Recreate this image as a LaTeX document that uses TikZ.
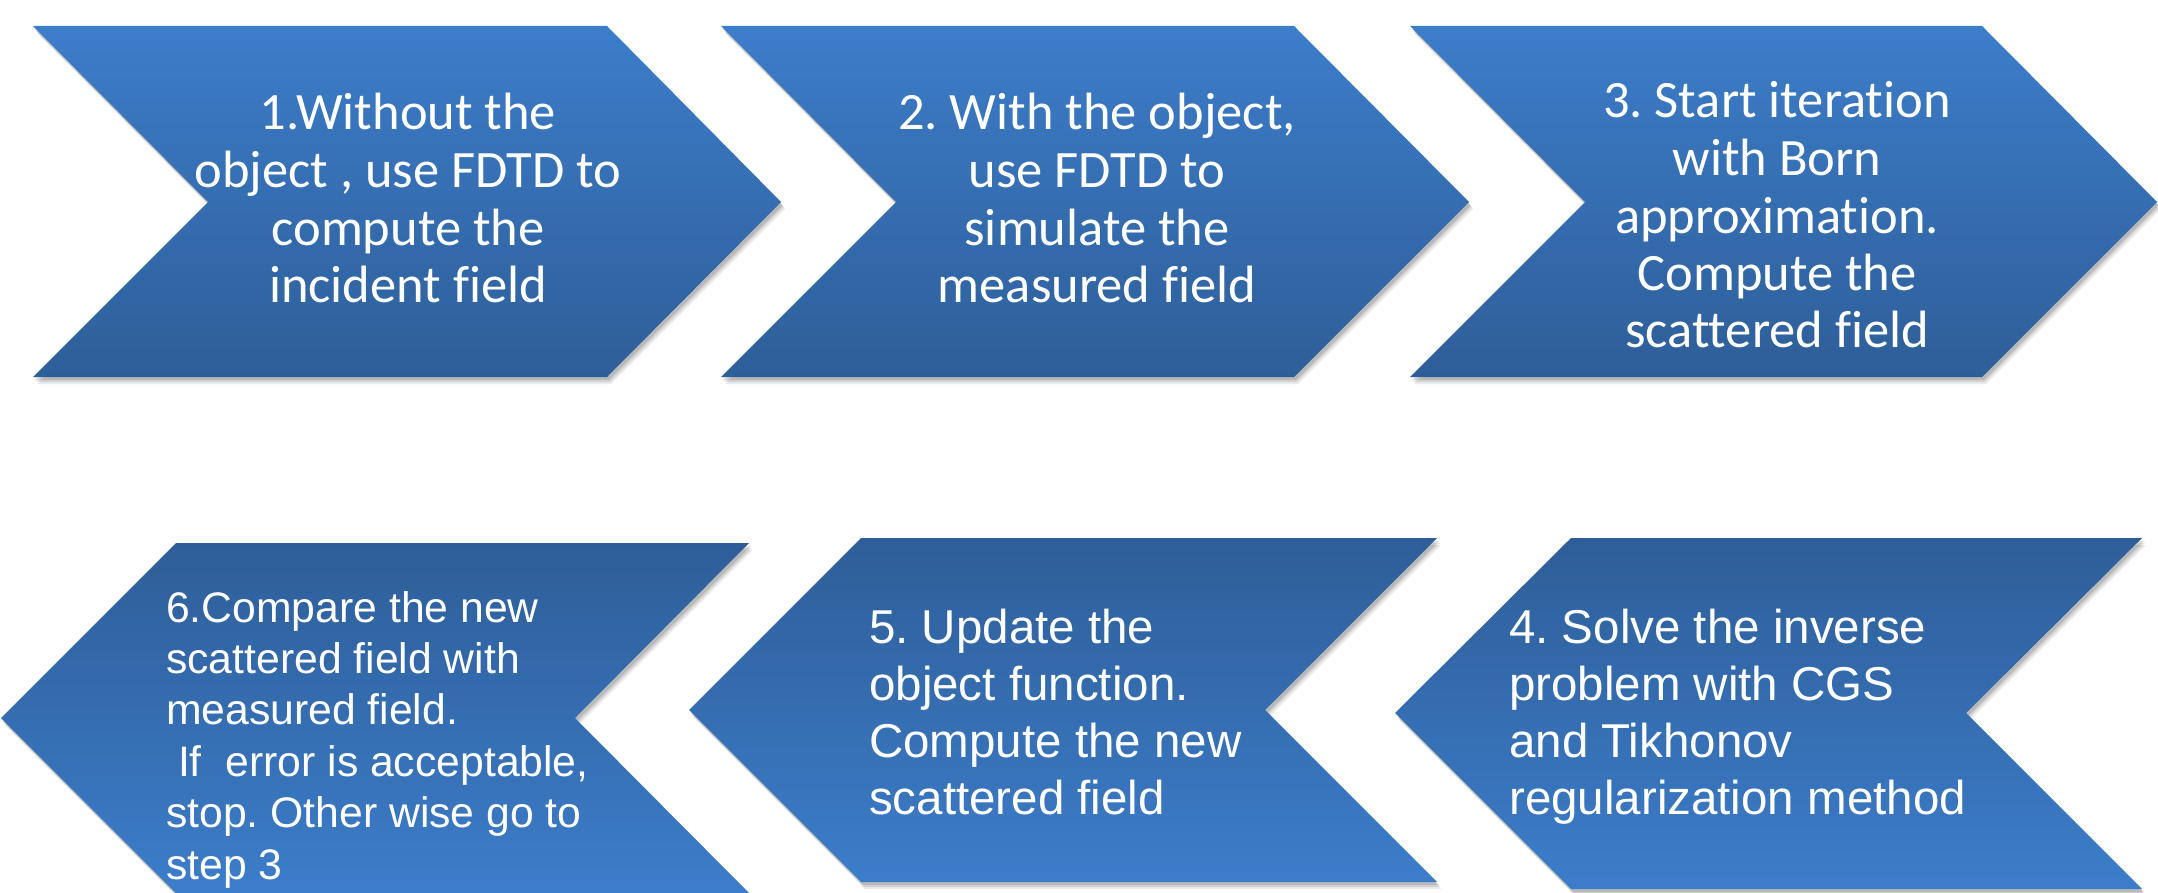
\documentclass[tikz,border=0pt]{standalone}
\usepackage{fontspec}
\newfontfamily\calibf[Ligatures=NoCommon]{Carlito}
\newfontfamily\arialf{Liberation Sans}
\definecolor{lightb}{RGB}{60,125,202}
\definecolor{darkb}{RGB}{46,94,152}
\newcommand\dropshadow[1]{%
  \fill[black,opacity=0.08,shift={(4,7)}] #1;
  \fill[black,opacity=0.10,shift={(3,5)}] #1;
  \fill[black,opacity=0.12,shift={(2,3)}] #1;}
\frenchspacing
\begin{document}
\begin{tikzpicture}[x=1pt,y=-1pt,
  chevtop/.style={top color=lightb,bottom color=darkb,draw=none},
  chevbot/.style={top color=darkb,bottom color=lightb,draw=none},
  toptext/.style={text=white,align=center,inner sep=0pt,anchor=base,
    font=\calibf\fontsize{52.5}{57.5}\selectfont\frenchspacing},
  bottext/.style={text=white,align=left,inner sep=0pt,anchor=base west,
    font=\arialf\fontsize{47.5}{57}\selectfont\frenchspacing},
  smalltext/.style={bottext,font=\arialf\fontsize{42.7}{51.4}\selectfont\frenchspacing}]
\useasboundingbox (0,0) rectangle (2158,893);
\fill[white] (0,0) rectangle (2158,893);
% shadows
\dropshadow{(33,26) -- (607,26) -- (781,202) -- (607,377) -- (33,377) -- (208,202) -- cycle}
\dropshadow{(721,26) -- (1294,26) -- (1469,202) -- (1294,377) -- (721,377) -- (896,202) -- cycle}
\dropshadow{(1410,26) -- (1982,26) -- (2157,202) -- (1982,377) -- (1410,377) -- (1585,202) -- cycle}
\dropshadow{(176,543) -- (749,543) -- (575,718) -- (749,893) -- (176,893) -- (1,718) -- cycle}
\dropshadow{(861,538) -- (1437,538) -- (1265,710) -- (1437,882) -- (861,882) -- (689,710) -- cycle}
\dropshadow{(1571,538) -- (2142,538) -- (1966,713) -- (2142,889) -- (1571,889) -- (1395,713) -- cycle}
% chevrons, top row
\path[chevtop] (33,26) -- (607,26) -- (781,202) -- (607,377) -- (33,377) -- (208,202) -- cycle;
\path[chevtop] (721,26) -- (1294,26) -- (1469,202) -- (1294,377) -- (721,377) -- (896,202) -- cycle;
\path[chevtop] (1410,26) -- (1982,26) -- (2157,202) -- (1982,377) -- (1410,377) -- (1585,202) -- cycle;
% chevrons, bottom row
\path[chevbot] (176,543) -- (749,543) -- (575,718) -- (749,893) -- (176,893) -- (1,718) -- cycle;
\path[chevbot] (861,538) -- (1437,538) -- (1265,710) -- (1437,882) -- (861,882) -- (689,710) -- cycle;
\path[chevbot] (1571,538) -- (2142,538) -- (1966,713) -- (2142,889) -- (1571,889) -- (1395,713) -- cycle;
% texts (anchor base = baseline of the last line)
\node[toptext] (t1) at (408,302.5) {1.Without the\\object , use FDTD to\\compute the\\incident field};
\node[toptext] (t2) at (1097,302.5) {2. With the object,\\use FDTD to\\simulate the\\measured field};
\node[toptext] (t3) at (1777,348) {3. Start iteration\\with Born\\approximation.\\Compute the\\scattered field};
\node[bottext] (t4) at (1509,814) {4. Solve the inverse\\problem with CGS\\and Tikhonov\\regularization method};
\node[bottext] (t5) at (869,814) {5. Update the\\object function.\\Compute the new\\scattered field};
\node[smalltext] (t6) at (166,879) {6.Compare the new\\scattered field with\\measured field.\\\hspace*{0.278em}If\hspace{0.556em}error is acceptable,\\stop. Other wise go to\\step 3};
\end{tikzpicture}
\end{document}
